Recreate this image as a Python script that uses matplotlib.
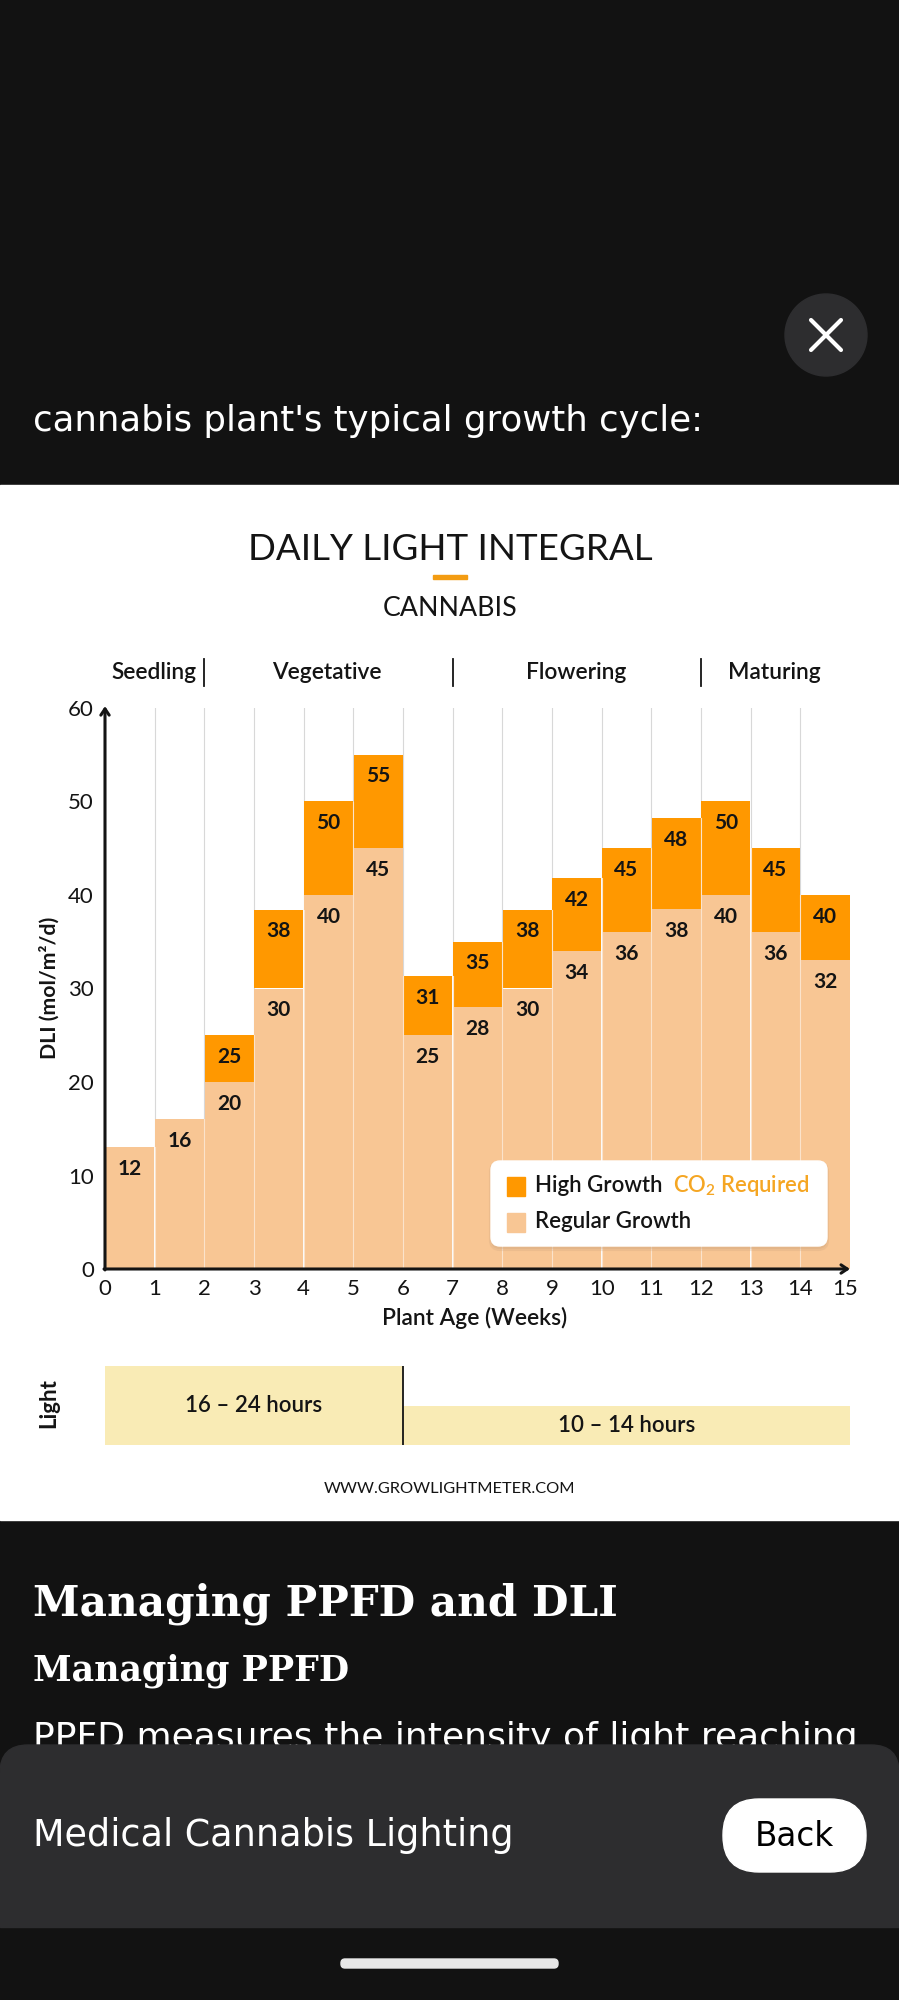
import matplotlib
matplotlib.use("Agg")
import matplotlib.pyplot as plt
from matplotlib.patches import Circle, FancyBboxPatch, Rectangle
from matplotlib.transforms import ScaledTranslation

plt.rcParams["font.family"] = ["Lato", "DejaVu Sans"]
plt.rcParams["mathtext.default"] = "regular"

# chart values
weeks = list(range(15))
regular_tops = [13, 16, 20, 30, 40, 45, 25, 28, 30, 34, 36, 38.5, 40, 36, 33]
high_tops = [None, None, 25, 38.4, 50, 55, 31.3, 35, 38.4, 41.8, 45, 48.2, 50, 45, 40]
regular_labels = [12, 16, 20, 30, 40, 45, 25, 28, 30, 34, 36, 38, 40, 36, 32]
high_labels = [None, None, 25, 38, 50, 55, 31, 35, 38, 42, 45, 48, 50, 45, 40]
x_ticks = list(range(16))
y_ticks = [0, 10, 20, 30, 40, 50, 60]
stage_names = ["Seedling", "Vegetative", "Flowering", "Maturing"]
stage_centers = [0.98, 4.47, 9.48, 13.47]
stage_breaks = [2, 7, 12]
light_starts = [0, 6]
light_widths = [6, 9]
light_levels = [2, 1]
light_names = ["16 – 24 hours", "10 – 14 hours"]

DARK = "#121212"
SHEET = "#2D2D2F"
INK = "#141414"
ORANGE = "#FF9800"
PEACH = "#F8C694"
CREAM = "#F9EBB5"
W, H = 899, 2000


def px_axes(left, top, right, bottom, **kwargs):
    return fig.add_axes([left / W, 1 - bottom / H, (right - left) / W, (bottom - top) / H], **kwargs)


fig = plt.figure(figsize=(8.99, 20), dpi=100, facecolor=DARK)

# page behind the chart, in pixel coordinates
ui = fig.add_axes([0, 0, 1, 1], zorder=0)
ui.set_xlim(0, W)
ui.set_ylim(H, 0)
ui.axis("off")
ui.add_patch(Rectangle((0, 485), W, 1035, color="white", zorder=1))
ui.add_patch(Circle((826, 335), 41, color=SHEET, zorder=1))
ui.plot([811, 841], [320, 350], color="white", lw=3, solid_capstyle="round", zorder=2)
ui.plot([811, 841], [350, 320], color="white", lw=3, solid_capstyle="round", zorder=2)
ui.text(33, 421, "cannabis plant's typical growth cycle:", color="white", fontsize=25.6,
        family="DejaVu Sans", va="center")
ui.text(450, 549, "DAILY LIGHT INTEGRAL", color=INK, fontsize=26.5, ha="center", va="center")
ui.add_patch(Rectangle((433, 575), 34, 4, color="#F39C12", zorder=2))
ui.text(450, 608, "CANNABIS", color=INK, fontsize=19.3, ha="center", va="center")
ui.text(450, 1489, "WWW.GROWLIGHTMETER.COM", color=INK, fontsize=11.8, ha="center", va="center")
ui.text(49, 988, "DLI (mol/m²/d)", color=INK, fontsize=15.3, rotation=90, ha="center", va="center", weight="bold")
ui.text(49, 1403, "Light", color=INK, fontsize=16, rotation=90, ha="center", va="center", weight="bold")

ui.text(33, 1604, "Managing PPFD and DLI", color="white", fontsize=30.3, family="DejaVu Serif",
        weight="bold", va="center")
ui.text(33, 1671, "Managing PPFD", color="white", fontsize=25.1, family="DejaVu Serif",
        weight="bold", va="center")
ui.text(33, 1738, "PPFD measures the intensity of light reaching", color="white", fontsize=26,
        family="DejaVu Sans", va="center", zorder=2)
ui.add_patch(FancyBboxPatch((0, 1745), W, 182, boxstyle="round,pad=0,rounding_size=28", color=SHEET, zorder=3))
ui.add_patch(Rectangle((0, 1800), W, 127, color=SHEET, zorder=3))
ui.text(33, 1836, "Medical Cannabis Lighting", color="white", fontsize=26.3, family="DejaVu Sans",
        va="center", zorder=4)
ui.add_patch(FancyBboxPatch((723, 1799), 143, 73, boxstyle="round,pad=0,rounding_size=36", color="white", zorder=4))
ui.text(794, 1836, "Back", color="black", fontsize=23.5, family="DejaVu Sans", ha="center", va="center", zorder=5)
ui.add_patch(FancyBboxPatch((341, 1959), 217, 9, boxstyle="round,pad=0,rounding_size=4", color="#E8E8E8", zorder=4))

# main chart, x 0..15 and y 0..60
ax = px_axes(105, 708, 850, 1269, zorder=2)
ax.patch.set_alpha(0)
ax.set_xlim(0, 15)
ax.set_ylim(0, 60)
for s in ax.spines.values():
    s.set_visible(False)

for x in x_ticks[1:-1]:
    ax.axvline(x, color="#D8D8D8", lw=0.8, zorder=1)

lefts = [w + 0.01 for w in weeks]
ax.bar(lefts, regular_tops, width=0.98, align="edge", color=PEACH, zorder=2)
for i, top in enumerate(high_tops):
    if top is not None:
        ax.bar(lefts[i], top - regular_tops[i], bottom=regular_tops[i], width=0.98, align="edge",
               color=ORANGE, zorder=2)

# pale seam between touching columns, up to the lower neighbour
full_tops = [h if h is not None else r for r, h in zip(regular_tops, high_tops)]
for x in x_ticks[1:-1]:
    ax.plot([x, x], [0, min(full_tops[x - 1], full_tops[x])], color="#FBE3CB", lw=0.8, zorder=2.5)

for i in weeks:
    ax.annotate(str(regular_labels[i]), (i + 0.5, regular_tops[i]), xytext=(0, -15.5), textcoords="offset points",
                ha="center", va="center", fontsize=15, weight="bold", color=INK, zorder=5)
    if high_tops[i] is not None:
        ax.annotate(str(high_labels[i]), (i + 0.5, high_tops[i]), xytext=(0, -15.5), textcoords="offset points",
                    ha="center", va="center", fontsize=15, weight="bold", color=INK, zorder=5)

arrow = dict(arrowstyle="->,head_length=0.45,head_width=0.3", color=INK, lw=2.2, shrinkA=0, shrinkB=0)
ax.annotate("", xy=(0, 60.2), xytext=(0, -0.1), arrowprops=arrow, annotation_clip=False, zorder=6)
ax.annotate("", xy=(15, 0), xytext=(-0.02, 0), arrowprops=arrow, annotation_clip=False, zorder=6)

ax.set_xticks(x_ticks)
ax.set_yticks(y_ticks)
ax.tick_params(length=0, labelsize=16, labelcolor=INK)
ax.tick_params(axis="x", pad=7.5)
ax.tick_params(axis="y", pad=8)
ax.get_xticklabels()[-1].set_transform(
    ax.get_xticklabels()[-1].get_transform() + ScaledTranslation(-4.5 / 100, 0, fig.dpi_scale_trans))
ax.set_xlabel("Plant Age (Weeks)", fontsize=16.4, color=INK, labelpad=5.5, weight=600, x=0.496)

for name, center in zip(stage_names, stage_centers):
    ax.text(center, 63.85, name, ha="center", va="center", fontsize=16.4, weight=600, color=INK)
for x in stage_breaks:
    ax.plot([x, x], [62.4, 65.2], color=INK, lw=1.3, clip_on=False)

# light schedule strip
ax2 = px_axes(105, 1366, 850, 1445, zorder=2)
ax2.patch.set_alpha(0)
ax2.set_xlim(0, 15)
ax2.set_ylim(0, 2)
ax2.axis("off")
ax2.bar(light_starts, light_levels, width=light_widths, align="edge", color=CREAM)
ax2.axvline(light_starts[1], color=INK, lw=1.3)
for start, width, level, name in zip(light_starts, light_widths, light_levels, light_names):
    ax2.text(start + width / 2, level / 2, name, ha="center", va="center", fontsize=16, weight=600, color=INK)

# legend card sits over the bars
top = fig.add_axes([0, 0, 1, 1], zorder=3)
top.set_xlim(0, W)
top.set_ylim(H, 0)
top.axis("off")
top.add_patch(FancyBboxPatch((491, 1163), 336, 86, boxstyle="round,pad=0,rounding_size=9",
                             color="#C9A27C", alpha=0.25, lw=3))
top.add_patch(FancyBboxPatch((491, 1161), 336, 85, boxstyle="round,pad=0,rounding_size=9", color="white"))
top.add_patch(Rectangle((507, 1177), 18, 19, color=ORANGE))
top.add_patch(Rectangle((507, 1213), 18, 19, color=PEACH))
top.text(535, 1186, "High Growth", fontsize=16, weight=600, color=INK, va="center")
top.text(673, 1186, "CO$_2$ Required", fontsize=15.8, weight=600, color="#F5A623", va="center")
top.text(535, 1222, "Regular Growth", fontsize=16, weight=600, color=INK, va="center")

fig.savefig("out.png", dpi=100, facecolor=DARK)
